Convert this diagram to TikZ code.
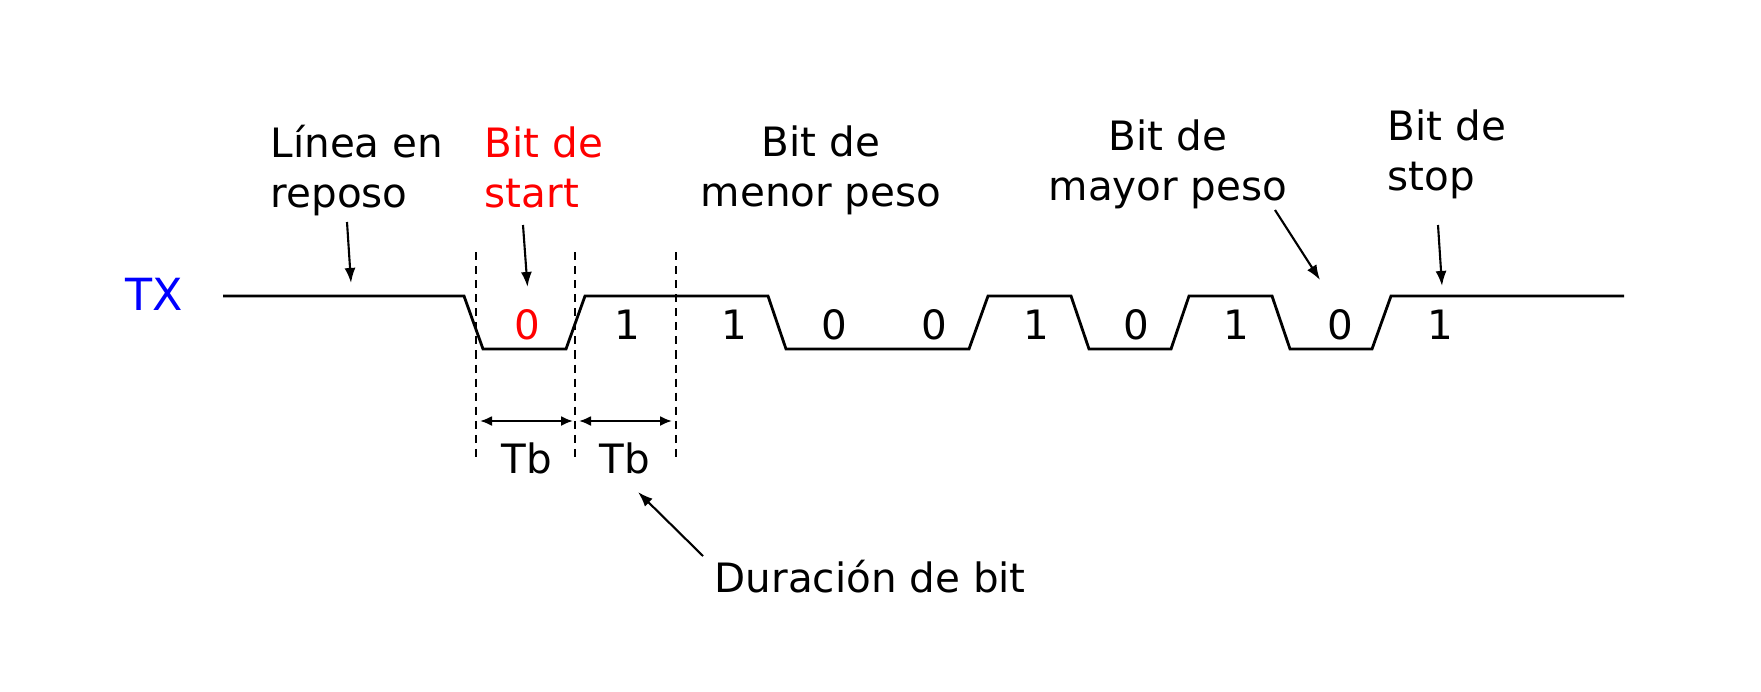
\documentclass[tikz,border=0pt]{standalone}
\usepackage{fontspec}
\setmainfont{DejaVu Sans}
\usetikzlibrary{arrows.meta}

\tikzset{
    signal/.style={line width=0.8pt, line join=miter},
    guide/.style={line width=0.55pt, dash pattern=on 2.3pt off 1.7pt},
    pointer/.style={-{Latex[length=1.5mm,width=1.1mm]}, line width=0.6pt},
    span/.style={{Latex[length=1.2mm,width=1.0mm]}-{Latex[length=1.2mm,width=1.0mm]}, line width=0.6pt},
    note/.style={font=\fontsize{11.5}{14.2}\selectfont, inner sep=0pt},
    bitval/.style={note, anchor=base}
}

\begin{document}
\begin{tikzpicture}[x=0.01cm, y=-0.01cm]
        \useasboundingbox (0,0) rectangle (1761,691);

        \node[note, blue, anchor=base, font=\fontsize{12.6}{14}\selectfont] (tx) at (154,310) {TX};

        % the frame on the line
        \draw[signal] (223,296) -- (464,296) -- (483,349) -- (566,349) -- (585,296)
            -- (768,296) -- (786,349) -- (969,349) -- (988,296) -- (1071,296)
            -- (1089,349) -- (1171,349) -- (1189,296) -- (1272,296) -- (1290,349)
            -- (1372,349) -- (1391,296) -- (1624,296);

        \node[bitval, red] (b0) at (527,339) {0};
        \node[bitval] (b1) at (627,339) {1};
        \node[bitval] (b2) at (734,339) {1};
        \node[bitval] (b3) at (834,339) {0};
        \node[bitval] (b4) at (934,339) {0};
        \node[bitval] (b5) at (1036,339) {1};
        \node[bitval] (b6) at (1136,339) {0};
        \node[bitval] (b7) at (1236,339) {1};
        \node[bitval] (b8) at (1340,339) {0};
        \node[bitval] (b9) at (1440,339) {1};

        % bit time marks
        \draw[guide] (476,252) coordinate (g0) -- (476,461);
        \draw[guide] (575,252) coordinate (g1) -- (575,461);
        \draw[guide] (676,252) coordinate (g2) -- (676,461);
        \coordinate (tb0a) at (480,421);
        \coordinate (tb0b) at (573,421);
        \coordinate (tb1a) at (579,421);
        \coordinate (tb1b) at (672,421);
        \draw[span] (tb0a) -- (tb0b);
        \draw[span] (tb1a) -- (tb1b);
        \node[note, anchor=base] (tb0) at (527,473) {Tb};
        \node[note, anchor=base] (tb1) at (625,473) {Tb};

        % labels
        \node[note, anchor=base west, align=left] (reposo) at (270,207) {Línea en\\reposo};
        \node[note, anchor=base west, align=left, red] (start) at (484,207) {Bit de\\start};
        \node[note, anchor=base, align=center] (menor) at (821,206) {Bit de\\menor peso};
        \node[note, anchor=base, align=center] (mayor) at (1168,200) {Bit de\\mayor peso};
        \node[note, anchor=base west, align=left] (stop) at (1387,190) {Bit de\\stop};
        \node[note, anchor=base west] (duracion) at (714,592) {Duración de bit};

        \coordinate (reposo-from) at (347,222);
        \coordinate (reposo-to) at (351,283);
        \coordinate (start-from) at (523,225);
        \coordinate (start-to) at (527.5,287);
        \coordinate (mayor-from) at (1275,210);
        \coordinate (mayor-to) at (1320,280);
        \coordinate (stop-from) at (1438,225);
        \coordinate (stop-to) at (1442,286);
        \coordinate (duracion-from) at (703,556);
        \coordinate (duracion-to) at (638,492);
        \draw[pointer] (reposo-from) -- (reposo-to);
        \draw[pointer] (start-from) -- (start-to);
        \draw[pointer] (mayor-from) -- (mayor-to);
        \draw[pointer] (stop-from) -- (stop-to);
        \draw[pointer] (duracion-from) -- (duracion-to);
    \end{tikzpicture}
\end{document}
